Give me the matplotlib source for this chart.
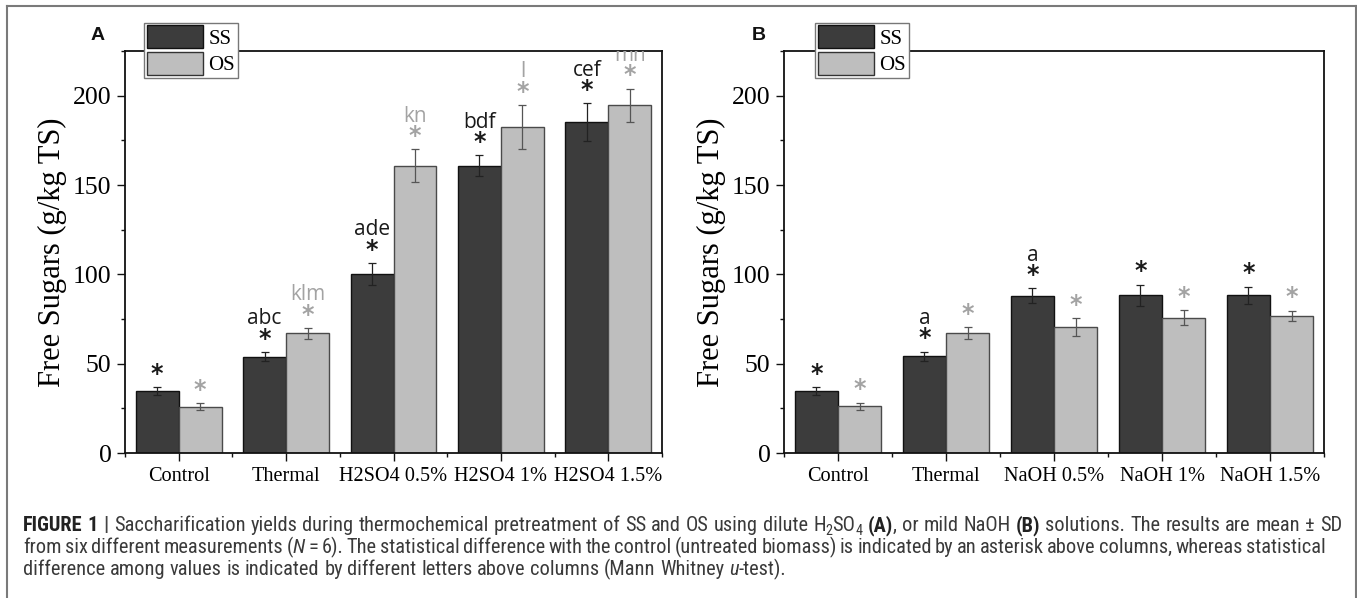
import re
import matplotlib
matplotlib.use("Agg")
import matplotlib.pyplot as plt
import numpy as np
from matplotlib.patches import Patch
from matplotlib.lines import Line2D
from matplotlib.ticker import FixedLocator, MultipleLocator
from matplotlib.transforms import ScaledTranslation
from matplotlib.font_manager import FontProperties, findfont

# ---------------- data ----------------
series_names = ["SS", "OS"]
categories_a = ["Control", "Thermal", "H2SO4 0.5%", "H2SO4 1%", "H2SO4 1.5%"]
categories_b = ["Control", "Thermal", "NaOH 0.5%", "NaOH 1%", "NaOH 1.5%"]

ss_a = [34.5, 54.0, 100.2, 160.8, 185.2]
ss_a_err = [2.3, 2.5, 6.0, 5.8, 10.5]
os_a = [26.0, 66.9, 160.9, 182.4, 194.5]
os_a_err = [2.0, 3.1, 9.0, 12.4, 9.5]

ss_b = [34.6, 54.2, 88.1, 88.3, 88.3]
ss_b_err = [2.4, 2.6, 4.0, 6.0, 4.8]
os_b = [26.2, 67.1, 70.3, 75.8, 76.9]
os_b_err = [2.0, 3.2, 5.0, 4.2, 2.8]

ss_a_letters = ["", "abc", "ade", "bdf", "cef"]
os_a_letters = ["", "klm", "kn", "l", "mn"]
ss_b_letters = ["", "a", "a", "", ""]
os_b_letters = ["", "", "", "", ""]
ss_a_sig = [True, True, True, True, True]
os_a_sig = [True, True, True, True, True]
ss_b_sig = [True, True, True, True, True]
os_b_sig = [True, True, True, True, True]

y_ticks = [0, 50, 100, 150, 200]
y_label = "Free Sugars (g/kg TS)"
panel_labels = ["A", "B"]

# ---------------- style ----------------
W, H = 1357, 598
DPI = 100
SS_COLOR = "#3c3c3c"
OS_COLOR = "#bebebe"
SS_TXT = "#1a1a1a"
OS_TXT = "#a3a3a3"
SERIF = "Liberation Serif"


def pick_font(cands):
    for c in cands:
        try:
            findfont(FontProperties(family=c), fallback_to_default=False)
            return c
        except Exception:
            continue
    return "DejaVu Sans"


CAP_FONT = pick_font(["Liberation Sans Narrow", "Roboto Condensed", "Liberation Sans"])
ANN_FONT = pick_font(["Open Sans", "Noto Sans", "DejaVu Sans"])

fig = plt.figure(figsize=(W / DPI, H / DPI), dpi=DPI)
fig.patch.set_facecolor("white")


def fx(px):
    return px / W


def fy(py):
    return 1 - py / H


axA = fig.add_axes([fx(125), fy(453), (662 - 125) / W, (453 - 51) / H])
axB = fig.add_axes([fx(784), fy(453), (1324 - 784) / W, (453 - 51) / H])


def panel(ax, cats, ss, ss_err, os_, os_err, ss_let, os_let, ss_sig, os_sig, leg_x):
    x = np.arange(len(cats))
    w = 0.4
    ax.bar(x - w / 2, ss, w, color=SS_COLOR, edgecolor="#111111", linewidth=1.0, zorder=2)
    ax.bar(x + w / 2, os_, w, color=OS_COLOR, edgecolor="#4a4a4a", linewidth=1.0, zorder=2)
    ax.errorbar(x - w / 2, ss, yerr=ss_err, fmt="none", ecolor="#222222",
                elinewidth=0.9, capsize=3.2, capthick=0.9, zorder=3)
    ax.errorbar(x + w / 2, os_, yerr=os_err, fmt="none", ecolor="#555555",
                elinewidth=0.9, capsize=3.2, capthick=0.9, zorder=3)

    def annot(xs, vals, errs, lets, sigs, color):
        for xi, v, e, let, sg in zip(xs, vals, errs, lets, sigs):
            top = v + e
            if sg:
                tr = ax.transData + ScaledTranslation(0, 9.5 / 72, fig.dpi_scale_trans)
                ax.text(xi, top, "*", transform=tr, ha="center", va="center",
                        fontsize=17, fontweight="bold", color=color,
                        family="DejaVu Sans", clip_on=True, zorder=4)
            if let:
                tr = ax.transData + ScaledTranslation(0, 24 / 72, fig.dpi_scale_trans)
                ax.text(xi, top, let, transform=tr, ha="center", va="center",
                        fontsize=15, color=color, family=ANN_FONT,
                        clip_on=True, zorder=4)

    annot(x - w / 2, ss, ss_err, ss_let, ss_sig, SS_TXT)
    annot(x + w / 2, os_, os_err, os_let, os_sig, OS_TXT)

    ax.set_xlim(-0.5, len(cats) - 0.5)
    ax.set_ylim(0, 225)
    ax.set_xticks(x)
    ax.set_xticklabels(cats, family=SERIF, fontsize=14.6)
    ax.set_yticks(y_ticks)
    ax.set_yticklabels([str(t) for t in y_ticks], family=SERIF, fontsize=18.5)
    ax.xaxis.set_minor_locator(FixedLocator(np.arange(-0.5, len(cats), 1.0)))
    ax.yaxis.set_minor_locator(MultipleLocator(25))
    ax.tick_params(which="major", direction="out", length=5.8, width=1.0,
                   color="#111111", pad=4)
    ax.tick_params(which="minor", direction="out", length=3.0, width=1.0, color="#111111")
    ax.tick_params(top=False, right=False, which="both")
    for s in ax.spines.values():
        s.set_linewidth(1.3)
        s.set_color("#111111")
    ax.set_ylabel(y_label, family=SERIF, fontsize=22, labelpad=4)

    handles = [Patch(facecolor=SS_COLOR, edgecolor="#111111", linewidth=1.0),
               Patch(facecolor=OS_COLOR, edgecolor="#333333", linewidth=1.0)]
    leg = ax.legend(handles, series_names, loc="upper left",
                    bbox_to_anchor=(fx(leg_x), fy(23)), bbox_transform=fig.transFigure,
                    frameon=True, fancybox=False, framealpha=1, edgecolor="#777777",
                    borderpad=0.12, labelspacing=0.15, handlelength=2.7,
                    handleheight=1.3, handletextpad=0.28, borderaxespad=0,
                    prop=FontProperties(family=SERIF, size=15))
    leg.get_frame().set_linewidth(1.0)
    leg.set_zorder(10)


panel(axA, categories_a, ss_a, ss_a_err, os_a, os_a_err, ss_a_letters, os_a_letters,
      ss_a_sig, os_a_sig, 144)
panel(axB, categories_b, ss_b, ss_b_err, os_b, os_b_err, ss_b_letters, os_b_letters,
      ss_b_sig, os_b_sig, 815)

fig.text(fx(98), fy(36), panel_labels[0], ha="center", va="center", fontsize=14,
         fontweight="bold", family="Liberation Sans", color="#111111")
fig.text(fx(759), fy(36), panel_labels[1], ha="center", va="center", fontsize=14,
         fontweight="bold", family="Liberation Sans", color="#111111")

# outer frame
for xs, ys in [((7, 7), (6, 598)), ((7, 1356), (6, 6)), ((1356, 1356), (6, 598))]:
    fig.add_artist(Line2D([fx(xs[0]), fx(xs[1])], [fy(ys[0]), fy(ys[1])],
                          transform=fig.transFigure, color="#7a7a7a", linewidth=1.5))

# ---------------- caption ----------------
caption_lines = [
    [("FIGURE 1", "bold", "normal", 0), (" | ", "bold", "normal", 0),
     ("Saccharification yields during thermochemical pretreatment of SS and OS using dilute H", "normal", "normal", 0),
     ("2", "normal", "normal", 1), ("SO", "normal", "normal", 0), ("4", "normal", "normal", 1),
     (" ", "normal", "normal", 0), ("(A)", "bold", "normal", 0),
     (", or mild NaOH ", "normal", "normal", 0), ("(B)", "bold", "normal", 0),
     (" solutions. The results are mean \u00b1 SD", "normal", "normal", 0)],
    [("from six different measurements (", "normal", "normal", 0), ("N", "normal", "italic", 0),
     (" = 6). The statistical difference with the control (untreated biomass) is indicated by an asterisk above columns, whereas statistical",
      "normal", "normal", 0)],
    [("difference among values is indicated by different letters above columns (Mann Whitney ", "normal", "normal", 0),
     ("u", "normal", "italic", 0), ("-test).", "normal", "normal", 0)],
]
caption_y = [526, 548, 570]
cap_x0 = 23
cap_targets = [1342, 1326, None]

renderer = fig.canvas.get_renderer()


def adv(s, weight, style, size):
    fp = FontProperties(family=CAP_FONT, weight=weight, style=style, size=size)
    w1, _, _ = renderer.get_text_width_height_descent("x" + s + "x", fp, ismath=False)
    w0, _, _ = renderer.get_text_width_height_descent("xx", fp, ismath=False)
    return w1 - w0


def line_width(line, size):
    return sum(adv(t, wt, st, size * (0.7 if sub else 1)) for t, wt, st, sub in line)


base = 11.0
ratios = [(cap_targets[i] - cap_x0) / line_width(caption_lines[i], base) for i in (0, 1)]
cap_size = base * float(np.mean(ratios))

for li, (line, yy) in enumerate(zip(caption_lines, caption_y)):
    nat = line_width(line, cap_size)
    nspaces = sum(t.count(" ") for t, wt, st, sub in line)
    extra = 0.0
    if cap_targets[li] is not None and nspaces:
        extra = (cap_targets[li] - cap_x0 - nat) / nspaces
    xpos = cap_x0
    for t, wt, st, sub in line:
        size = cap_size * (0.7 if sub else 1)
        dy = 4 if sub else 0
        col = "#222222" if wt == "bold" else "#3a3a3a"
        for piece in re.split(r"( )", t):
            if piece == "":
                continue
            if piece == " ":
                xpos += adv(" ", wt, st, size) + extra
                continue
            c = "#444444" if piece == "|" else col
            fig.text(fx(xpos), fy(yy + 5 + dy), piece, ha="left", va="baseline",
                     fontsize=size, fontweight=wt, fontstyle=st, family=CAP_FONT, color=c)
            xpos += adv(piece, wt, st, size)

fig.savefig("out.png", dpi=DPI, facecolor="white")
